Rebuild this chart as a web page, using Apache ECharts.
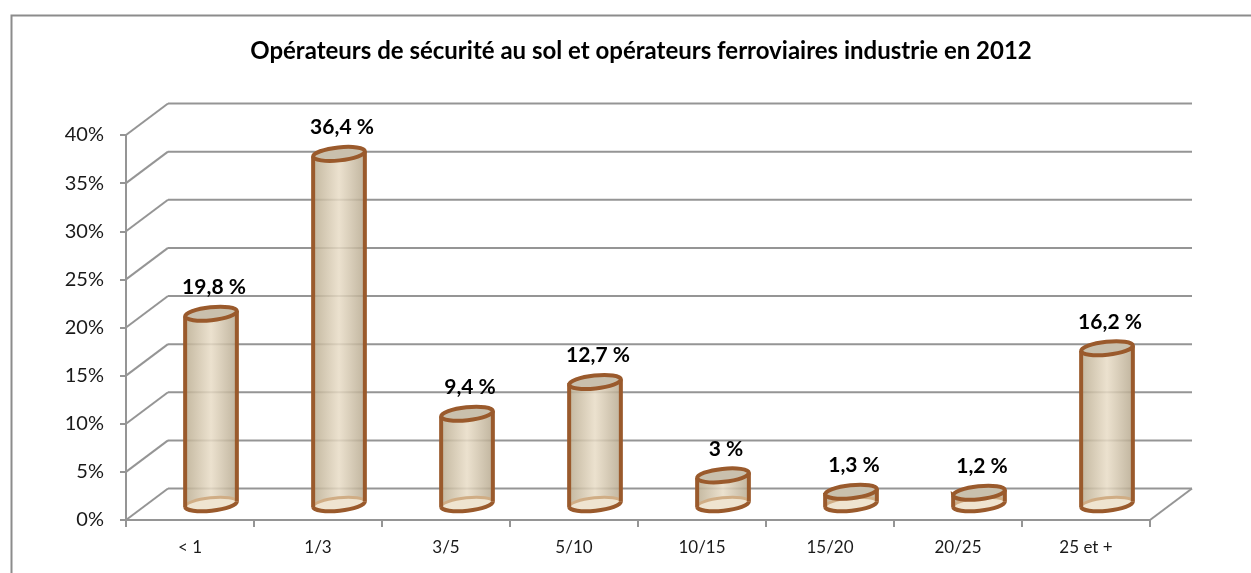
<!DOCTYPE html>
<html><head><meta charset="utf-8">
<script src="https://cdn.jsdelivr.net/npm/echarts@6/dist/echarts.min.js"></script>
<style>html,body{margin:0;padding:0;background:#fff}#c{width:1251px;height:573px}</style>
</head><body><div id="c"></div>
<script>
const chartTitle = 'Opérateurs de sécurité au sol et opérateurs ferroviaires industrie en 2012';
const categories = ['< 1', '1/3', '3/5', '5/10', '10/15', '15/20', '20/25', '25 et +'];
const values = [19.8, 36.4, 9.4, 12.7, 3, 1.3, 1.2, 16.2];
const yTicks = [0, 5, 10, 15, 20, 25, 30, 35, 40];
const yTickLabels = ['0%', '5%', '10%', '15%', '20%', '25%', '30%', '35%', '40%'];

const DX = 42, DY = -31.5;         // depth offset of the back wall
const GRID = '#959595';
const BROWN = '#9a5a2c';
const FONT = 'Lato';

function fmt(v) { return String(v).replace('.', ',') + ' %'; }

function renderWalls(params, api) {
  const cs = params.coordSys;
  const v = api.value(1);
  const y = api.coord([0, v])[1];
  const x0 = cs.x, x1 = cs.x + cs.width;
  const st = { stroke: GRID, lineWidth: 2 };
  const children = [
    { type: 'line', shape: { x1: x0, y1: y, x2: x0 + DX, y2: y + DY }, style: st },
    { type: 'line', shape: { x1: x0 + DX, y1: y + DY, x2: x1 + DX, y2: y + DY }, style: st }
  ];
  if (v === yTicks[0]) {
    children.push({ type: 'line', shape: { x1: x1, y1: y, x2: x1 + DX, y2: y + DY }, style: st });
  }
  return { type: 'group', children };
}

function renderCyl(params, api) {
  const i = api.value(0), v = api.value(1);
  const base = api.coord([i, 0]), top = api.coord([i, v]);
  const cx = base[0] + DX / 2, yb = base[1] + DY / 2, yt = top[1] + DY / 2;
  const rx = 26, ry = 6.5, deg = -6, a = deg * Math.PI / 180;
  const c = Math.cos(a), s = Math.sin(a);
  const L = cy => [cx - rx * c, cy - rx * s];
  const R = cy => [cx + rx * c, cy + rx * s];
  const arc = (p, sweep) => `A ${rx} ${ry} ${deg} 0 ${sweep} ${p[0]} ${p[1]}`;
  const lt = L(yt), rt = R(yt), lb = L(yb), rb = R(yb);
  const full = (l, r) => `M ${l[0]} ${l[1]} ${arc(r, 1)} ${arc(l, 1)} Z`;
  const body = `M ${lt[0]} ${lt[1]} L ${lb[0]} ${lb[1]} ${arc(rb, 0)} L ${rt[0]} ${rt[1]} Z`;
  const grad = new echarts.graphic.LinearGradient(0, 0, 1, 0, [
    { offset: 0, color: 'rgba(186,172,144,0.85)' },
    { offset: 0.5, color: 'rgba(232,220,198,0.85)' },
    { offset: 1, color: 'rgba(182,168,142,0.85)' }
  ]);
  const lw = 4;
  return {
    type: 'group',
    children: [
      { type: 'path', shape: { pathData: body }, style: { fill: grad } },
      { type: 'path', shape: { pathData: full(lb, rb) }, style: { fill: '#efe4d0' } },
      { type: 'path', shape: { pathData: `M ${lb[0]} ${lb[1]} ${arc(rb, 1)}` }, style: { fill: null, stroke: '#d0ad85', lineWidth: 3 } },
      { type: 'path', shape: { pathData: `M ${lb[0]} ${lb[1]} ${arc(rb, 0)}` }, style: { fill: null, stroke: BROWN, lineWidth: lw } },
      { type: 'line', shape: { x1: lt[0], y1: lt[1], x2: lb[0], y2: lb[1] }, style: { stroke: BROWN, lineWidth: lw } },
      { type: 'line', shape: { x1: rt[0], y1: rt[1], x2: rb[0], y2: rb[1] }, style: { stroke: BROWN, lineWidth: lw } },
      { type: 'path', shape: { pathData: full(lt, rt) }, style: { fill: '#c9c0ad', stroke: BROWN, lineWidth: lw } },
      { type: 'text', x: cx + 3, y: yt - 16, style: { text: fmt(v), fill: '#000', font: `bold 21px ${FONT}`, align: 'center', verticalAlign: 'bottom' } }
    ]
  };
}

const chart = echarts.init(document.getElementById('c'), null, { renderer: 'canvas' });
chart.setOption({
  animation: false,
  backgroundColor: '#fff',
  title: {
    text: chartTitle, left: 636, top: 34, textAlign: 'center',
    textStyle: { fontFamily: FONT, fontWeight: 'bold', fontSize: 24, color: '#000' }
  },
  graphic: [{
    type: 'rect', left: 9, top: 13, shape: { width: 1300, height: 620 },
    style: { fill: null, stroke: '#8c8c8c', lineWidth: 2 }, silent: true
  }],
  grid: { left: 126, right: 101, top: 135, bottom: 53, containLabel: false },
  xAxis: {
    type: 'category', data: categories,
    axisLine: { lineStyle: { color: GRID, width: 2 } },
    axisTick: { show: true, length: 7, lineStyle: { color: GRID, width: 2 } },
    axisLabel: { margin: 19, fontFamily: FONT, fontSize: 17, color: '#1a1a1a' },
    splitLine: { show: false }
  },
  yAxis: {
    type: 'value', min: yTicks[0], max: yTicks[yTicks.length - 1], interval: yTicks[1] - yTicks[0],
    axisLine: { show: true, lineStyle: { color: GRID, width: 2 } },
    axisTick: { show: true, length: 6, lineStyle: { color: GRID, width: 2 } },
    axisLabel: {
      margin: 22, fontFamily: FONT, fontSize: 20, color: '#1a1a1a',
      formatter: v => yTickLabels[yTicks.indexOf(v)]
    },
    splitLine: { show: false }
  },
  series: [
    { type: 'custom', name: 'walls', clip: false, z: 1, renderItem: renderWalls,
      data: yTicks.map(v => [0, v]), silent: true },
    { type: 'custom', name: 'bars', clip: false, z: 5, renderItem: renderCyl,
      data: values.map((v, i) => [i, v]) }
  ]
});
</script></body></html>
